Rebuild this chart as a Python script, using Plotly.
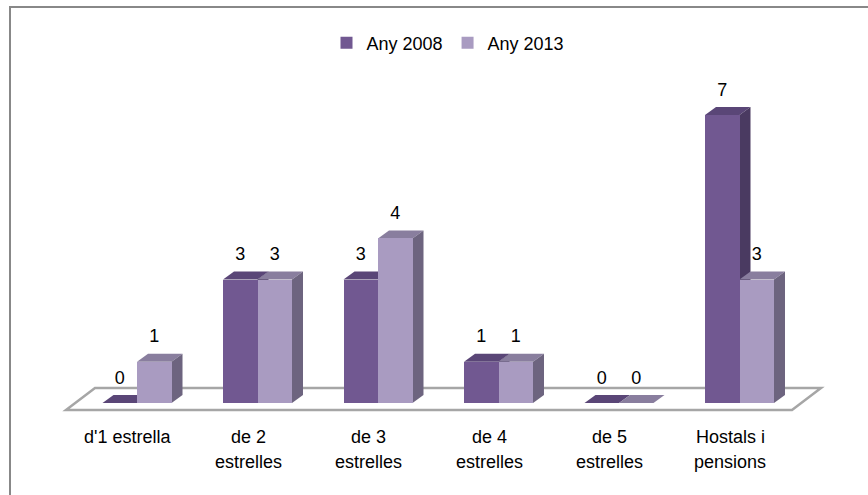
import plotly.graph_objects as go

# ---------------- data ----------------
categories = ["d'1 estrella", "de 2<br>estrelles", "de 3<br>estrelles",
              "de 4<br>estrelles", "de 5<br>estrelles", "Hostals i<br>pensions"]
series_names = ["Any 2008", "Any 2013"]
values_2008 = [0, 3, 3, 1, 0, 7]
values_2013 = [1, 3, 4, 1, 0, 3]

# ---------------- layout constants ----------------
W, H = 868, 495
ML, MR, MT, MB = 30, 20, 30, 15
PW, PH = W - ML - MR, H - MT - MB
CAT0_PX, CAT_STEP = 137.0, 120.5      # pixel of first category centre, px per category
BASE_PX, UNIT_PX = 403.0, 41.14        # pixel of value 0, px per unit

def xu(px):  # pixel -> category units
    return (px - CAT0_PX) / CAT_STEP

def yu(py):  # pixel -> value units
    return (BASE_PX - py) / UNIT_PX

x_range = [xu(ML), xu(W - MR)]
y_range = [yu(H - MB), yu(MT)]

BAR_W = 34.5 / CAT_STEP
DX = 11 / CAT_STEP
DY = 8 / UNIT_PX

FONT = "Liberation Sans, Arial, sans-serif"
colors = {
    "Any 2008": dict(front="#715891", top="#5a4677", side="#4a3a61"),
    "Any 2013": dict(front="#a99bc1", top="#897e9e", side="#6d647f"),
}

series = [(series_names[0], values_2008, -BAR_W), (series_names[1], values_2013, 0.0)]

fig = go.Figure()
shapes = []

# floor (parallelogram)
fl, fr, bl, br = xu(66), xu(792), xu(95), xu(821)
yf, yb = yu(410), yu(388)
shapes.append(dict(type="path", xref="x", yref="y", layer="below",
                   path=f"M{fl},{yf} L{fr},{yf} L{br},{yb} L{bl},{yb} Z",
                   line=dict(color="#a6a6a6", width=2.5), fillcolor="white"))

xs = list(range(len(categories)))
for name, vals, off in series:
    c = colors[name]
    fig.add_trace(go.Bar(x=xs, y=vals, name=name, width=BAR_W, offset=off,
                         marker=dict(color=c["front"], line=dict(width=0)),
                         hoverinfo="skip"))
    for i, v in zip(xs, vals):
        x0 = i + off
        x1 = x0 + BAR_W
        # top face
        shapes.append(dict(type="path", xref="x", yref="y", layer="below",
                           path=f"M{x0},{v} L{x1},{v} L{x1+DX},{v+DY} L{x0+DX},{v+DY} Z",
                           line=dict(width=0), fillcolor=c["top"]))
        # side face
        if v > 0:
            shapes.append(dict(type="path", xref="x", yref="y", layer="below",
                               path=f"M{x1},0 L{x1+DX},{DY} L{x1+DX},{v+DY} L{x1},{v} Z",
                               line=dict(width=0), fillcolor=c["side"]))

# data labels
for name, vals, off in series:
    fig.add_trace(go.Scatter(
        x=[i + off + BAR_W / 2 for i in xs],
        y=[v + 24 / UNIT_PX for v in vals],
        text=[str(v) for v in vals], mode="text", showlegend=False,
        textfont=dict(family=FONT, size=18, color="#000000"),
        hoverinfo="skip", cliponaxis=False))

# category labels (one annotation per line)
annotations = []
LABEL_DX = -9.5 / CAT_STEP
line_px = [437, 462]
for i, lab in zip(xs, categories):
    for k, line in enumerate(lab.split("<br>")):
        annotations.append(dict(x=i + LABEL_DX, y=yu(line_px[k]), xref="x", yref="y",
                                text=line, showarrow=False, xanchor="center",
                                yanchor="middle",
                                font=dict(family=FONT, size=18, color="#000000")))

# outer chart border
def px_paper_x(px):
    return (px - ML) / PW

def px_paper_y(py):
    return (H - MB - py) / PH

shapes.append(dict(type="rect", xref="paper", yref="paper", layer="below",
                   x0=px_paper_x(10), x1=px_paper_x(W + 20),
                   y0=px_paper_y(H + 20), y1=px_paper_y(7),
                   line=dict(color="#888888", width=2), fillcolor="rgba(0,0,0,0)"))

fig.update_layout(
    width=W, height=H,
    margin=dict(l=ML, r=MR, t=MT, b=MB, pad=0),
    paper_bgcolor="white", plot_bgcolor="white",
    barmode="overlay", bargap=0,
    shapes=shapes, annotations=annotations,
    showlegend=True,
    legend=dict(orientation="h", x=px_paper_x(448), xanchor="center",
                y=px_paper_y(43), yanchor="middle",
                font=dict(family=FONT, size=18, color="#000000"),
                itemwidth=30, traceorder="normal", bgcolor="rgba(0,0,0,0)"),
    xaxis=dict(range=x_range, visible=False, fixedrange=True),
    yaxis=dict(range=y_range, visible=False, fixedrange=True),
    font=dict(family=FONT),
)

fig.write_html("out.html", config={"displayModeBar": False},
               post_script="document.body.style.margin='0';document.body.style.overflow='hidden';")
